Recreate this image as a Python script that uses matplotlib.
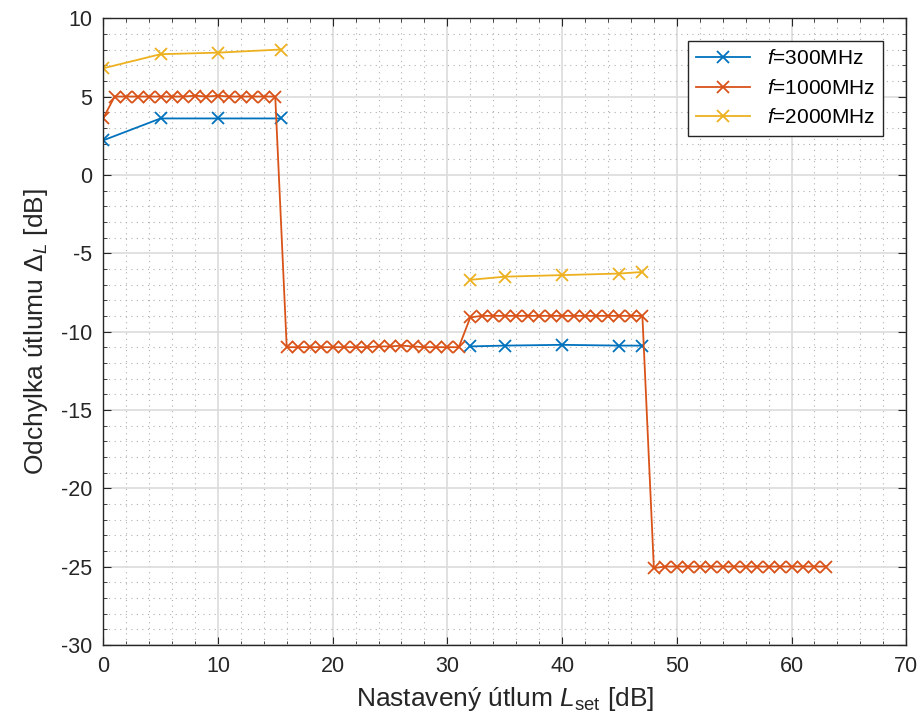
import numpy as np
import matplotlib
matplotlib.use('Agg')
import matplotlib.pyplot as plt
from matplotlib.ticker import MultipleLocator

plt.rcParams['font.family'] = ['Liberation Sans', 'DejaVu Sans']
plt.rcParams['mathtext.fontset'] = 'custom'
plt.rcParams['mathtext.rm'] = 'Liberation Sans'
plt.rcParams['mathtext.it'] = 'Liberation Sans:italic'
plt.rcParams['axes.unicode_minus'] = False

# nastaveny utlum a odchylky pro jednotlive frekvence
L_300 = [0, 5, 10, 15.5, 32, 35, 40, 45, 47]
d_300 = [2.2, 3.6, 3.6, 3.6, -10.95, -10.9, -10.85, -10.9, -10.9]
seg_300 = [0, 0, 0, 0, 1, 1, 1, 1, 1]

L_1000 = list(range(0, 64))
d_1000 = ([3.6, 5.0, 5.0, 5.0, 5.0, 5.0, 5.0, 5.0, 5.05, 5.0, 5.05, 5.0, 5.0, 5.0, 5.0, 5.0] +
          [-11.0, -11.0, -11.0, -11.0, -11.0, -11.0, -11.0, -11.0, -10.95, -10.95, -10.9, -10.95, -11.0, -11.0, -11.0, -11.0] +
          [-9.1, -9.0, -9.0, -9.0, -9.0, -9.0, -9.0, -9.0, -9.0, -9.0, -9.0, -9.0, -9.0, -9.0, -9.0, -9.0] +
          [-25.1, -25.0, -25.0, -25.0, -25.0, -25.0, -25.0, -25.0, -25.0, -25.0, -25.0, -25.0, -25.0, -25.0, -25.0, -25.0])

L_2000 = [0, 5, 10, 15.5, 32, 35, 40, 45, 47]
d_2000 = [6.8, 7.7, 7.8, 8.0, -6.7, -6.5, -6.4, -6.3, -6.2]
seg_2000 = [0, 0, 0, 0, 1, 1, 1, 1, 1]

c_blue = '#0072BD'
c_orange = '#D95319'
c_yellow = '#EDB120'

fig = plt.figure(figsize=(9.21, 7.27), dpi=100)
ax = fig.add_axes([0.112, 0.113, 0.872, 0.862])

# kazdy usek meri zvlast, mezi useky se cara nekresli
def plot_segments(x, y, seg, color, label):
    x = np.array(x, dtype=float)
    y = np.array(y, dtype=float)
    seg = np.array(seg)
    first = True
    for s in np.unique(seg):
        m = seg == s
        ax.plot(x[m], y[m], '-x', color=color, lw=1.3, ms=8.5, mew=1.3,
                label=label if first else None)
        first = False

plot_segments(L_300, d_300, seg_300, c_blue, r'$f$=300MHz')
ax.plot(L_1000, d_1000, '-x', color=c_orange, lw=1.3, ms=8.5, mew=1.3, label=r'$f$=1000MHz')
plot_segments(L_2000, d_2000, seg_2000, c_yellow, r'$f$=2000MHz')

ax.set_xlim(0, 70)
ax.set_ylim(-30, 10)
ax.xaxis.set_major_locator(MultipleLocator(10))
ax.xaxis.set_minor_locator(MultipleLocator(2))
ax.yaxis.set_major_locator(MultipleLocator(5))
ax.yaxis.set_minor_locator(MultipleLocator(1))
ax.grid(which='major', color='#dcdcdc', lw=1.2)
ax.grid(which='minor', color='#b0b0b0', lw=0.8, ls=(0, (1, 4)))
ax.set_axisbelow(True)
ax.tick_params(which='both', direction='in', top=True, right=True, colors='#262626', labelsize=15.5)
ax.tick_params(which='major', length=6, pad=8)
ax.tick_params(which='minor', length=3)
for sp in ax.spines.values():
    sp.set_color('#262626')
    sp.set_linewidth(1.0)

ax.set_xlabel(r'Nastavený útlum $L_\mathrm{set}$ [dB]', fontsize=19, color='#262626', labelpad=6)
ax.set_ylabel(r'Odchylka útlumu $\Delta_L$ [dB]', fontsize=19, color='#262626', labelpad=8)

leg = ax.legend(loc='upper right', fontsize=15, fancybox=False, framealpha=1,
                edgecolor='#262626', handlelength=2.6, borderaxespad=1.1)
leg.get_frame().set_linewidth(1.0)

fig.savefig('out.png', dpi=100)
